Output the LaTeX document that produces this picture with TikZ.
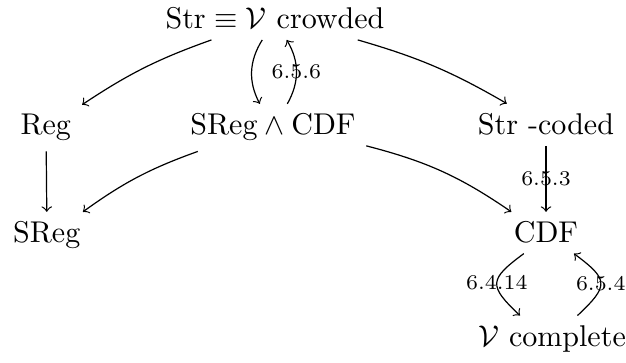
\documentclass[tikz,border=0pt]{standalone}
\usepackage{amsmath,amssymb}
\tikzset{every picture/.style={line width=0.4pt}}

\begin{document}
\begin{tikzpicture}[
            x=0.333pt,
            y=0.333pt,
            every node/.style={text=black, anchor=base, inner sep=0.333em},
            lbl/.style={font=\scriptsize, anchor=center, inner sep=0pt},
            line width=0.4pt
        ]
            \useasboundingbox (0,0) rectangle (626,363);

            \node (top) at (275,334) {$\mathrm{Str}\equiv\mathcal{V}$ crowded};
            \node (reg) at (46,228) {$\mathrm{Reg}$};
            \node (sc) at (273,228) {$\mathrm{SReg}\wedge\mathrm{CDF}$};
            \node (strc) at (546,228) {$\mathrm{Str}$ -coded};
            \node (sreg) at (47,120) {$\mathrm{SReg}$};
            \node (cdf) at (546,120) {$\mathrm{CDF}$};
            \node (vc) at (552,16) {$\mathcal{V}$ complete};

            \draw [->] (top) to [bend right=7] (reg);
            \draw [->] (top) to [bend right=30] (sc);
            \draw [->] (sc) to [bend right=30] node [lbl] {6.5.6} (top);
            \draw [->] (top) to [bend left=7] (strc);
            \draw [->] (reg) -- (sreg);
            \draw [->] (sc) to [bend right=8] (sreg);
            \draw [->] (sc) to [bend left=10] (cdf);
            \draw [->] (strc) -- node [lbl] {6.5.3} (cdf);
            \draw [->] (cdf) to [bend right=50, looseness=1.8] node [lbl] {6.4.14} (vc);
            \draw [->] (vc) to [bend right=50, looseness=1.8] node [lbl] {6.5.4} (cdf);
        \end{tikzpicture}
\end{document}
